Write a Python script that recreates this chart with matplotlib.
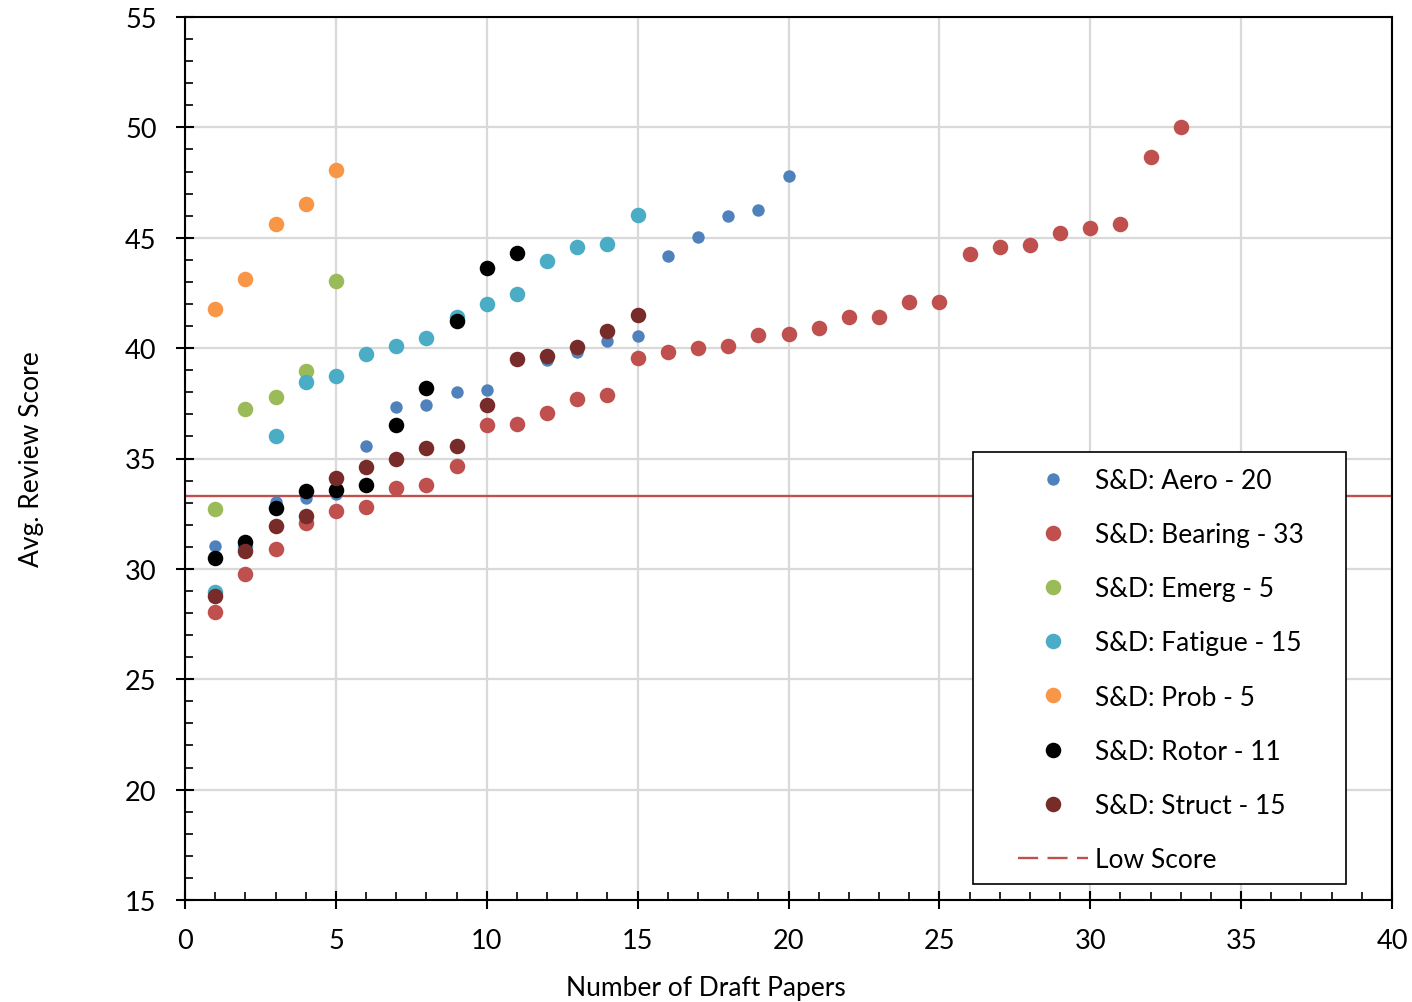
import numpy as np
import matplotlib
matplotlib.use('Agg')
import matplotlib.pyplot as plt
from matplotlib.lines import Line2D
from matplotlib.patches import Rectangle
from matplotlib.ticker import MultipleLocator

plt.rcParams['font.family'] = ['Lato', 'DejaVu Sans']

# values
aero = [31.05, 31.0, 33.04, 33.2, 33.39, 35.58, 37.32, 37.42, 38.0, 38.1,
        39.51, 39.46, 39.81, 40.34, 40.53, 44.19, 45.05, 45.99, 46.26, 47.81]
bearing = [28.06, 29.77, 30.9, 32.06, 32.61, 32.82, 33.66, 33.8, 34.65, 36.53,
           36.56, 37.06, 37.7, 37.89, 39.55, 39.84, 40.01, 40.08, 40.61, 40.63,
           40.9, 41.42, 41.42, 42.07, 42.08, 44.26, 44.6, 44.67, 45.2, 45.43,
           45.62, 48.66, 50.02]
emerg = [32.71, 37.24, 37.79, 38.96, 43.03]
fatigue = [28.94, 31.0, 36.03, 38.45, 38.75, 39.72, 40.08, 40.44, 41.42, 42.0,
           42.47, 43.96, 44.6, 44.72, 46.03]
prob = [41.77, 43.13, 45.61, 46.53, 48.05]
rotor = [30.48, 31.23, 32.76, 33.54, 33.59, 33.8, 36.53, 38.18, 41.23, 43.61, 44.29]
struct = [28.79, 30.82, 31.96, 32.38, 34.13, 34.61, 34.96, 35.49, 35.57, 37.42,
          39.51, 39.63, 40.07, 40.79, 41.5]
low_score = 33.3

series = [
    ('S&D: Aero - 20', aero, '#4F81BD', 80),
    ('S&D: Bearing - 33', bearing, '#C0504D', 125),
    ('S&D: Emerg - 5', emerg, '#9BBB59', 125),
    ('S&D: Fatigue - 15', fatigue, '#4BACC6', 125),
    ('S&D: Prob - 5', prob, '#F79646', 125),
    ('S&D: Rotor - 11', rotor, '#000000', 125),
    ('S&D: Struct - 15', struct, '#772C2A', 125),
]

W, H = 1412, 1003
fig = plt.figure(figsize=(W / 100, H / 100), dpi=100)
ax = fig.add_axes([185 / W, 102 / H, 1207 / W, 883 / H])

handles = []
for name, vals, col, s in series:
    x = np.arange(1, len(vals) + 1)
    ax.scatter(x, vals, s=s, color=col, linewidths=0, zorder=3)
    handles.append(Line2D([], [], linestyle='none', marker='o', markersize=np.sqrt(s),
                          markerfacecolor=col, markeredgewidth=0, label=name))

ax.axhline(low_score, color='#C0504D', linewidth=1.7, zorder=2)
handles.append(Line2D([], [], color='#C0504D', linewidth=1.7, dashes=(8.5, 4), label='Low Score'))

ax.set_xlim(0, 40)
ax.set_ylim(15, 55)
ax.xaxis.set_major_locator(MultipleLocator(5))
ax.xaxis.set_minor_locator(MultipleLocator(1))
ax.yaxis.set_major_locator(MultipleLocator(5))
ax.yaxis.set_minor_locator(MultipleLocator(1))
ax.tick_params(which='major', direction='inout', length=13, width=1.5, labelsize=19.5, pad=14)
ax.tick_params(which='minor', direction='in', length=6, width=1.2)
ax.grid(True, which='major', color='#D9D9D9', linewidth=1.6, zorder=0)
ax.set_axisbelow(True)
for sp in ax.spines.values():
    sp.set_linewidth(1.5)
    sp.set_color('black')

ax.set_xlabel('Number of Draft Papers', fontsize=19, labelpad=18)
ax.xaxis.set_label_coords((706 - 185) / 1207, -0.085)
ax.set_ylabel('Avg. Review Score', fontsize=19, labelpad=58)

# legend box drawn separately, legend content placed inside it
box = Rectangle((973 / W, 1 - 885 / H), (1346 - 973) / W, (885 - 453) / H,
                transform=fig.transFigure, facecolor='white', edgecolor='black',
                linewidth=1.2, zorder=4.5, clip_on=False)
ax.add_artist(box)
leg = ax.legend(handles=handles, loc='upper left', bbox_to_anchor=(1018 / W, 1 - 469 / H),
                bbox_transform=fig.transFigure, fontsize=19, frameon=False,
                borderpad=0, labelspacing=1.105, handlelength=2.65,
                handletextpad=0.25, borderaxespad=0)
leg.set_zorder(5)

fig.savefig('out.png', dpi=100)
